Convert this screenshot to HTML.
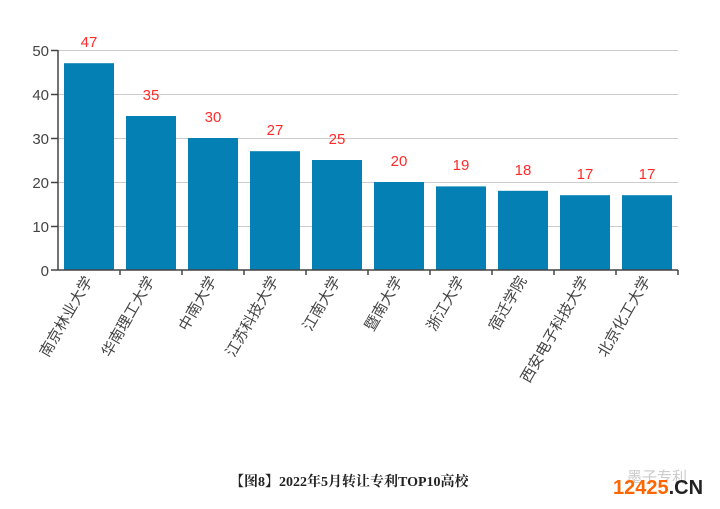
<!DOCTYPE html>
<html><head><meta charset="utf-8"><style>body{margin:0;background:#fff}svg{display:block}</style></head><body>
<svg width="720" height="509" xmlns="http://www.w3.org/2000/svg" font-family="'Liberation Sans','Noto Sans CJK SC',sans-serif">
<g stroke="#ccc" stroke-width="1">
<line x1="58" x2="678" y1="50.5" y2="50.5"/><line x1="58" x2="678" y1="94.5" y2="94.5"/><line x1="58" x2="678" y1="138.5" y2="138.5"/><line x1="58" x2="678" y1="182.5" y2="182.5"/><line x1="58" x2="678" y1="226.5" y2="226.5"/>
</g>
<g fill="#444" font-size="15" text-anchor="end">
<text x="49" y="56">50</text><text x="49" y="100">40</text><text x="49" y="144">30</text><text x="49" y="188">20</text><text x="49" y="232">10</text><text x="49" y="276">0</text>
</g>
<g stroke="#444" stroke-width="1.5">
<line x1="51" x2="58" y1="50.5" y2="50.5"/><line x1="51" x2="58" y1="94.5" y2="94.5"/><line x1="51" x2="58" y1="138.5" y2="138.5"/><line x1="51" x2="58" y1="182.5" y2="182.5"/><line x1="51" x2="58" y1="226.5" y2="226.5"/><line x1="51" x2="58" y1="270" y2="270"/>
</g>
<g fill="#0580b4">
<rect x="64" y="63.2" width="50" height="206.8"/>
<rect x="126" y="116" width="50" height="154"/>
<rect x="188" y="138" width="50" height="132"/>
<rect x="250" y="151.2" width="50" height="118.8"/>
<rect x="312" y="160" width="50" height="110"/>
<rect x="374" y="182" width="50" height="88"/>
<rect x="436" y="186.4" width="50" height="83.6"/>
<rect x="498" y="190.8" width="50" height="79.2"/>
<rect x="560" y="195.2" width="50" height="74.8"/>
<rect x="622" y="195.2" width="50" height="74.8"/>
</g>
<g stroke="#444" stroke-width="1.5">
<line x1="58" x2="58" y1="50" y2="270"/><line x1="58" x2="678" y1="270" y2="270"/>
<line x1="120" x2="120" y1="270" y2="275"/><line x1="182" x2="182" y1="270" y2="275"/><line x1="244" x2="244" y1="270" y2="275"/><line x1="306" x2="306" y1="270" y2="275"/><line x1="368" x2="368" y1="270" y2="275"/><line x1="430" x2="430" y1="270" y2="275"/><line x1="492" x2="492" y1="270" y2="275"/><line x1="554" x2="554" y1="270" y2="275"/><line x1="616" x2="616" y1="270" y2="275"/><line x1="678" x2="678" y1="270" y2="275"/>
</g>
<g fill="#ff2a2a" font-size="15" text-anchor="middle">
<text x="89" y="47">47</text><text x="151" y="100">35</text><text x="213" y="122">30</text><text x="275" y="135">27</text><text x="337" y="144">25</text><text x="399" y="166">20</text><text x="461" y="170">19</text><text x="523" y="175">18</text><text x="585" y="179">17</text><text x="647" y="179">17</text>
</g>
<g fill="#444" font-size="15" text-anchor="end">
<text transform="translate(93,280) rotate(-60)">南京林业大学</text>
<text transform="translate(155,280) rotate(-60)">华南理工大学</text>
<text transform="translate(217,280) rotate(-60)">中南大学</text>
<text transform="translate(279,280) rotate(-60)">江苏科技大学</text>
<text transform="translate(341,280) rotate(-60)">江南大学</text>
<text transform="translate(403,280) rotate(-60)">暨南大学</text>
<text transform="translate(465,280) rotate(-60)">浙江大学</text>
<text transform="translate(527,280) rotate(-60)">宿迁学院</text>
<text transform="translate(589,280) rotate(-60)">西安电子科技大学</text>
<text transform="translate(651,280) rotate(-60)">北京化工大学</text>
</g>
<text x="230" y="486" font-size="14" fill="#222" font-family="'Liberation Serif','Noto Serif CJK SC',serif" font-weight="bold">【图8】2022年5月转让专利TOP10高校</text>
<text x="627" y="482" font-size="15" fill="#ccc">墨子专利</text>
<text x="613" y="494" font-size="20" font-weight="bold" fill="#ff6600">12425<tspan fill="#222">.CN</tspan></text>
</svg>
</body></html>
